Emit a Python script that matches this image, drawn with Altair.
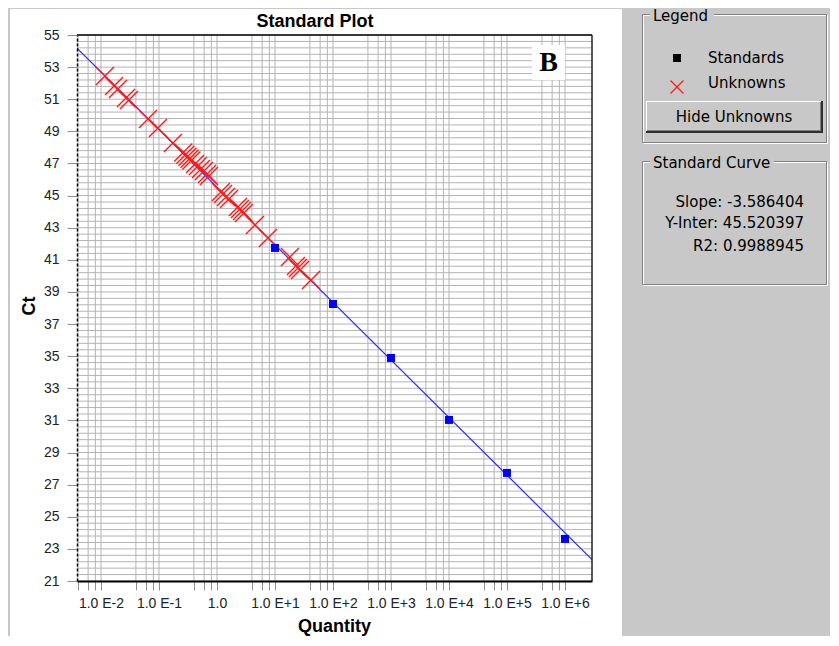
import altair as alt
import pandas as pd
import math

# ---------------- data ----------------
std_quantity = [1e1, 1e2, 1e3, 1e4, 1e5, 1e6]
std_ct = [41.74, 38.25, 34.89, 31.03, 27.73, 23.62]

unk_quantity = [0.0117, 0.0168, 0.0196, 0.0270, 0.0304, 0.0646, 0.0961, 0.174,
                0.262, 0.285, 0.310, 0.336, 0.362,
                0.418, 0.470, 0.530, 0.597, 0.673, 0.728,
                1.17, 1.27, 1.43, 1.61,
                2.30, 2.49, 2.70, 2.92,
                4.52, 7.57, 18.1, 23.0, 24.9, 27.0, 41.8]
unk_ct = [52.45, 51.83, 51.64, 51.08, 50.95, 49.77, 49.21, 48.28,
          47.68, 47.55, 47.42, 47.30, 47.18,
          46.97, 46.84, 46.66, 46.53, 46.34, 46.22,
          45.22, 45.10, 44.91, 44.79,
          44.29, 44.17, 44.04, 43.92,
          43.17, 42.36, 41.18, 40.62, 40.49, 40.37, 39.74]

slope = -3.586404
intercept = 45.520397
r2 = 0.9988945

x_domain = [0.00386, 2.92e6]
y_domain = [21, 55]
y_tick_labels = list(range(21, 56, 2))
x_grid = [m * 10.0 ** k for k in range(-3, 7) for m in (4, 6, 8, 10)
          if x_domain[0] <= m * 10.0 ** k <= x_domain[1]]
y_grid = [round(21 + 0.4 * i, 1) for i in range(0, 86)]

# fit line endpoints from the stated slope / intercept
fit_q = x_domain
fit_ct = [intercept + slope * math.log10(v) for v in fit_q]

W, H = 515, 546
GRAY = "#c8c8c8"
UI_FONT = "DejaVu Sans"
GRID = "#b4b4b4"

std_df = pd.DataFrame({"q": std_quantity, "ct": std_ct})
unk_df = pd.DataFrame({"q": unk_quantity, "ct": unk_ct})
fit_df = pd.DataFrame({"q": fit_q, "ct": fit_ct})
xg_df = pd.DataFrame({"q": x_grid})
yg_df = pd.DataFrame({"ct": y_grid})

one = alt.Data(values=[{}])

xscale = alt.Scale(type="log", domain=x_domain, nice=False)
yscale = alt.Scale(domain=y_domain, nice=False, zero=False)

lab = "round(log(datum.value)/LN10)"
label_expr = ("abs(log(datum.value)/LN10 - " + lab + ") < 0.001 ? (" + lab +
              " == 0 ? '1.0' : '1.0 E' + (" + lab + " > 0 ? '+' : '') + " + lab + ") : ''")

xaxis = alt.Axis(values=x_grid, labelExpr=label_expr, grid=False, title=None,
                 tickSize=9, tickColor="#909090", labelPadding=6,
                 labelFont="Liberation Sans", labelFontSize=14, labelColor="#222222",
                 labelOverlap=False, labelFlush=False,
                 domainColor="#000000", domainWidth=2, zindex=1)
yaxis = alt.Axis(values=y_tick_labels, grid=False, title=None,
                 tickSize=10, tickColor="#909090", labelPadding=8,
                 labelFont="Liberation Sans", labelFontSize=14, labelColor="#222222",
                 labelOverlap=False, labelFlush=False,
                 domainColor="#000000", domainWidth=1.5, domainDash=[3, 2], zindex=1)

X = alt.X("q:Q", scale=xscale, axis=xaxis)
Y = alt.Y("ct:Q", scale=yscale, axis=yaxis)


def rect(x, x2, y, y2, fill):
    return alt.Chart(one).mark_rect(fill=fill, strokeWidth=0).encode(
        x=alt.value(x), x2=alt.value(x2), y=alt.value(y), y2=alt.value(y2))


def box(x, x2, y, y2, stroke, width=1):
    return alt.Chart(one).mark_rect(fillOpacity=0, stroke=stroke, strokeWidth=width).encode(
        x=alt.value(x), x2=alt.value(x2), y=alt.value(y), y2=alt.value(y2))


def hline(x, x2, y, color, width=1):
    return alt.Chart(one).mark_rule(color=color, strokeWidth=width).encode(
        x=alt.value(x), x2=alt.value(x2), y=alt.value(y))


def vline(x, y, y2, color, width=1):
    return alt.Chart(one).mark_rule(color=color, strokeWidth=width).encode(
        x=alt.value(x), y=alt.value(y), y2=alt.value(y2))


def text(t, x, y, size=15, font=UI_FONT, weight="normal", align="left", angle=0, color="#000000"):
    return alt.Chart(one).mark_text(text=t, font=font, fontSize=size, fontWeight=weight,
                                    align=align, baseline="middle", angle=angle,
                                    color=color).encode(x=alt.value(x), y=alt.value(y))


white_panel = rect(-67, 545, -26, 603, "#ffffff")

xgrid = alt.Chart(xg_df).mark_rule(color=GRID, strokeWidth=1).encode(x=X)
ygrid = alt.Chart(yg_df).mark_rule(color=GRID, strokeWidth=1).encode(y=Y)

fit = alt.Chart(fit_df).mark_line(color="#2b2bff", strokeWidth=1.2, clip=True).encode(x=X, y=Y)

XPATH = "M-1,-1L1,1M-1,1L1,-1"
unknowns = alt.Chart(unk_df).mark_point(shape=XPATH, filled=False, color="#ff1a1a",
                                        strokeWidth=1.4, size=324, opacity=1).encode(x=X, y=Y)

standards = alt.Chart(std_df).mark_square(size=64, color="#0000ff", opacity=1).encode(x=X, y=Y)

b_box = rect(455, 488, 10, 45, "#ffffff")
b_text = text("B", 471.5, 28, size=28, font="Liberation Serif", weight="bold", align="center")

frame_top = hline(0, W, 0, "#000000", 1.5)
frame_right = vline(W, 0, H, "#222222", 1.5)

title = text("Standard Plot", 238, -13, size=18, font="Liberation Sans", weight="bold", align="center")
xtitle = text("Quantity", 257.5, 592, size=18, font="Liberation Sans", weight="bold", align="center")
ytitle = text("Ct", -47, 271, size=18, font="Liberation Sans", weight="bold", align="center", angle=270)

# ---------- side panel ----------
panel = [
    # Legend group box
    box(566.5, 750.5, -19.5, 108.5, "#ffffff"),
    box(565.5, 749.5, -20.5, 107.5, "#808080"),
    rect(573, 637, -27, -12, GRAY),
    text("Legend", 576, -19),
    alt.Chart(one).mark_square(size=64, color="#000000", opacity=1).encode(
        x=alt.value(600), y=alt.value(23)),
    text("Standards", 631, 23),
    alt.Chart(one).mark_point(shape=XPATH, filled=False, color="#ff1a1a", strokeWidth=1.3,
                              size=169, opacity=1).encode(x=alt.value(600), y=alt.value(52)),
    text("Unknowns", 631, 48),
    # button
    rect(569, 746, 66, 98, GRAY),
    hline(569, 746, 66.5, "#ffffff", 1),
    vline(569.5, 66, 98, "#ffffff", 1),
    hline(569, 746, 97, "#303030", 2),
    vline(745, 66, 98, "#303030", 2),
    hline(570, 744, 95.5, "#808080", 1),
    vline(743.5, 67, 96, "#808080", 1),
    text("Hide Unknowns", 657, 82, align="center"),
    # Standard Curve group box
    box(566.5, 750.5, 127.5, 250.5, "#ffffff"),
    box(565.5, 749.5, 126.5, 249.5, "#808080"),
    rect(573, 697, 120, 134, GRAY),
    text("Standard Curve", 576, 128),
    text("Slope: " + f"{slope:.6f}", 727, 167, align="right"),
    text("Y-Inter: " + f"{intercept:.6f}", 727, 188, align="right"),
    text("R2: " + f"{r2:.7f}", 727, 211, align="right"),
]

chart = alt.layer(
    white_panel, xgrid, ygrid, fit, unknowns, standards, b_box, b_text,
    frame_top, frame_right, title, xtitle, ytitle, *panel
).properties(
    width=W, height=H,
    background=GRAY,
    padding={"left": 69, "top": 27, "right": 238, "bottom": 55},
    autosize=alt.AutoSizeParams(type="none"),
).configure_view(strokeWidth=0).configure_axisY(labelOverlap=False, labelFlush=False)

chart.save("out.html", embed_options={"renderer": "svg", "actions": False})
